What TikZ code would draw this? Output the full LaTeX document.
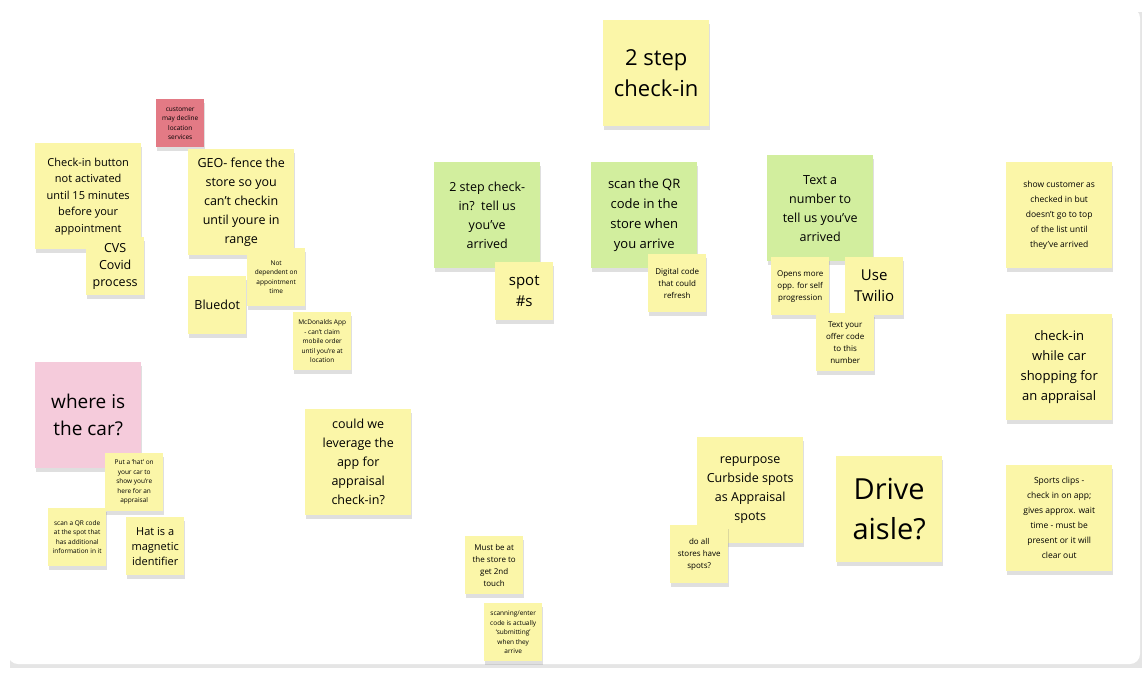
\documentclass[tikz,border=0pt]{standalone}
\usepackage{fontspec}
\setmainfont{Open Sans}
\usetikzlibrary{shadows}
\definecolor{stickyyellow}{HTML}{FBF6A8}
\definecolor{stickygreen}{HTML}{D2EE9E}
\definecolor{stickyred}{HTML}{E37A85}
\definecolor{stickypink}{HTML}{F5CBDB}
\begin{document}
\begin{tikzpicture}[
    x=1pt, y=-1pt,
    note/.style={anchor=north west, inner sep=2pt, align=center, fill=stickyyellow,
      drop shadow={shadow xshift=1pt, shadow yshift=-4pt, opacity=.25}},
    big/.style={note, minimum width=106pt, minimum height=106pt, font=\fontsize{12.5}{19}\selectfont},
    small/.style={note, minimum width=58pt, minimum height=58pt, font=\fontsize{8}{12}\selectfont},
    tiny/.style={note, minimum width=58pt, minimum height=58pt, font=\fontsize{6.5}{9.5}\selectfont},
    mid/.style={note, minimum width=58pt, minimum height=58pt, font=\fontsize{12.5}{17}\selectfont},
]
\useasboundingbox (0,0) rectangle (1148,680);
\fill[gray!20] (10,12) rectangle (1142,668);
\fill[white, rounded corners=10pt] (8,8) rectangle (1140,664);

% header
\node[big, font=\fontsize{22}{31}\selectfont] (header) at (603,20) {2 step\\check-in};

% left cluster
\node[tiny, fill=stickyred, minimum width=48pt, minimum height=48pt] (decline) at (156,99) {customer\\may decline\\location\\services};
\node[big, font=\fontsize{11}{16.5}\selectfont] (button) at (35,143) {Check-in button\\not activated\\until 15 minutes\\before your\\appointment};
\node[mid] (cvs) at (86,237) {CVS\\Covid\\process};
\node[big] (geo) at (188,149) {GEO- fence the\\store so you\\can't checkin\\until youre in\\range};
\node[tiny] (notdep) at (247,248) {Not\\dependent on\\appointment\\time};
\node[mid] (bluedot) at (188,276) {Bluedot};
\node[tiny] (mcd) at (293,312) {McDonalds App\\- can't claim\\mobile order\\until you're at\\location};

% where is the car
\node[big, fill=stickypink, font=\fontsize{19}{27}\selectfont] (car) at (35,362) {where is\\the car?};
\node[tiny] (hat) at (105,453) {Put a `hat' on\\your car to\\show you're\\here for an\\appraisal};
\node[tiny] (scanspot) at (48,508) {scan a QR code\\at the spot that\\has additional\\information in it};
\node[mid, font=\fontsize{11}{15}\selectfont] (magnetic) at (126,517) {Hat is a\\magnetic\\identifier};
\node[big] (leverage) at (305,409) {could we\\leverage the\\app for\\appraisal\\check-in?};

% middle options
\node[big, fill=stickygreen] (tellus) at (434,162) {2 step check-\\in?\ \ tell us\\you've\\arrived};
\node[mid, font=\fontsize{15}{21}\selectfont] (spots) at (495,262) {spot\\\#s};
\node[big, fill=stickygreen, font=\fontsize{13}{20}\selectfont] (scanqr) at (591,162) {scan the QR\\code in the\\store when\\you arrive};
\node[small] (digital) at (648,254) {Digital code\\that could\\refresh};
\node[big, fill=stickygreen] (textnum) at (767,155) {Text a\\number to\\tell us you've\\arrived};
\node[small] (opens) at (771,257) {Opens more\\opp. for self\\progression};
\node[mid, font=\fontsize{15}{21}\selectfont] (twilio) at (845,257) {Use\\Twilio};
\node[small] (offer) at (816,313) {Text your\\offer code\\to this\\number};

% bottom middle
\node[small] (muststore) at (465,536) {Must be at\\the store to\\get 2nd\\touch};
\node[tiny] (submitting) at (484,603) {scanning/enter\\code is actually\\`submitting'\\when they\\arrive};
\node[big] (repurpose) at (697,437) {repurpose\\Curbside spots\\as Appraisal\\spots};
\node[small] (allstores) at (670,525) {do all\\stores have\\spots?};
\node[big, font=\fontsize{29}{40}\selectfont] (drive) at (836,456) {Drive\\aisle?};

% right column
\node[big, font=\fontsize{8.5}{15}\selectfont] (showcust) at (1006,162) {show customer as\\checked in but\\doesn't go to top\\of the list until\\they've arrived};
\node[big, font=\fontsize{13}{20}\selectfont] (whilecar) at (1006,314) {check-in\\while car\\shopping for\\an appraisal};
\node[big, font=\fontsize{8.5}{15}\selectfont] (sports) at (1006,465) {Sports clips -\\check in on app;\\gives approx. wait\\time - must be\\present or it will\\clear out};
\end{tikzpicture}
\end{document}
